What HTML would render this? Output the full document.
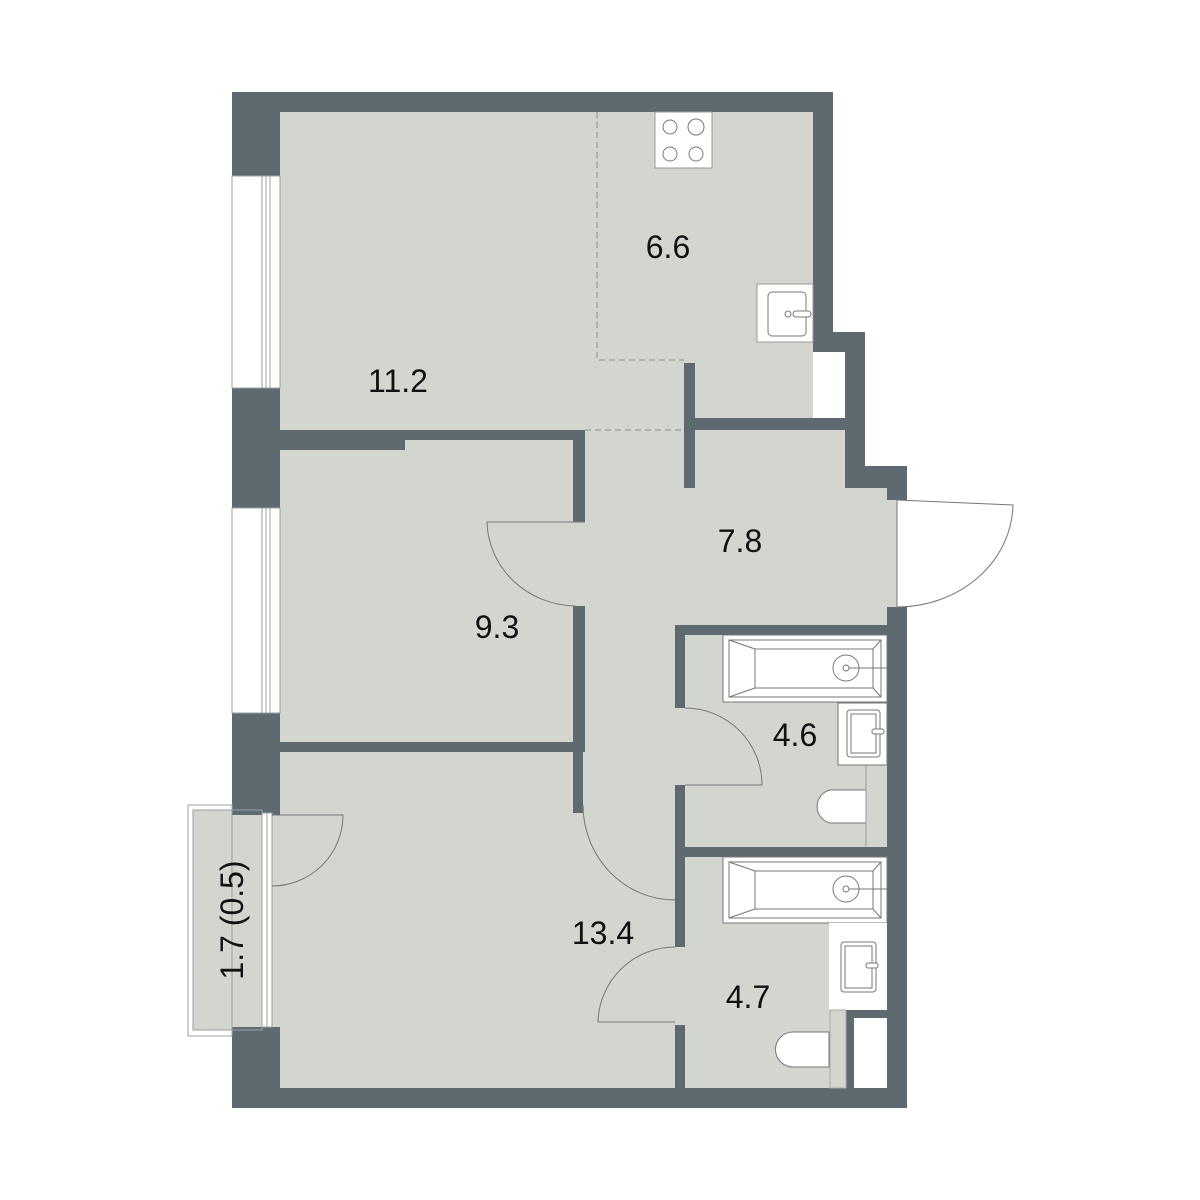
<!DOCTYPE html>
<html><head><meta charset="utf-8"><style>html,body{margin:0;padding:0;background:#fff}svg{display:block}text{font-family:"Liberation Sans",sans-serif;font-size:32px;fill:#111;text-anchor:middle}</style></head>
<body>
<svg width="1200" height="1200" viewBox="0 0 1200 1200" xmlns="http://www.w3.org/2000/svg">
<!-- floor -->
<g fill="#d3d5cf">
<rect x="280" y="112" width="533" height="320"/>
<rect x="270" y="430" width="575" height="660"/>
<rect x="845" y="488" width="42" height="602"/>
<rect x="887" y="500" width="10" height="107"/>
<rect x="193" y="810" width="70" height="220"/>
</g>
<g fill="#5f6a70">
<rect x="232" y="92" width="48" height="723"/>
<rect x="232" y="1027" width="48" height="81"/>
<rect x="232" y="92" width="601" height="20"/>
<rect x="813" y="92" width="20" height="260"/>
<rect x="813" y="332" width="52" height="20"/>
<rect x="845" y="332" width="20" height="156"/>
<rect x="845" y="466" width="62" height="22"/>
<rect x="887" y="466" width="20" height="34"/>
<rect x="887" y="607" width="20" height="501"/>
<rect x="232" y="1088" width="675" height="20"/>
<rect x="685" y="418" width="160" height="12"/>
<rect x="684" y="363" width="11" height="125"/>
<rect x="280" y="430" width="305" height="10"/>
<rect x="280" y="430" width="125" height="20"/>
<rect x="573" y="430" width="12" height="92"/>
<rect x="573" y="606" width="12" height="140"/>
<rect x="280" y="742" width="305" height="10"/>
<rect x="573" y="742" width="10" height="71"/>
<rect x="675" y="625" width="232" height="10"/>
<rect x="675" y="625" width="10" height="83"/>
<rect x="675" y="785" width="10" height="162"/>
<rect x="675" y="847" width="212" height="10"/>
<rect x="675" y="1025" width="10" height="70"/>
<rect x="846" y="1010" width="41" height="8"/>
<rect x="846" y="1010" width="8" height="80"/>
</g>
<g fill="#fff" stroke="#9aa0a3" stroke-width="1">
<rect x="232" y="176" width="48" height="212"/>
<rect x="232" y="508" width="48" height="205"/>
<rect x="262" y="813" width="10" height="214"/>
</g>
<g stroke="#9aa0a3" stroke-width="1">
<line x1="262" y1="176" x2="262" y2="388"/><line x1="266" y1="176" x2="266" y2="388"/><line x1="270" y1="176" x2="270" y2="388"/>
<line x1="262" y1="508" x2="262" y2="713"/><line x1="266" y1="508" x2="266" y2="713"/><line x1="270" y1="508" x2="270" y2="713"/>
<line x1="267" y1="813" x2="267" y2="1027"/>
</g>
<rect x="188" y="805" width="44" height="231" fill="none" stroke="#9aa0a3"/>
<rect x="193" y="810" width="69" height="220" fill="none" stroke="#9aa0a3"/>
<text transform="translate(243,920) rotate(-90)">1.7 (0.5)</text>
<rect x="822" y="352" width="23" height="66" fill="#fff"/>
<rect x="854" y="1018" width="33" height="70" fill="#fff"/>
<g stroke="#8a8f92" stroke-dasharray="6,4" fill="none">
<polyline points="597,112 597,360 684,360"/>
<line x1="585" y1="430" x2="684" y2="430"/>
</g>
<g fill="none" stroke="#777" stroke-width="1">
<path d="M585,522 L487,522 A90,86 0 0 0 575,606"/>
<path d="M583,805 A92,95 0 0 0 675,900"/>
<path d="M685,708 A77,77 0 0 1 762,785 L685,785"/>
<path d="M675,947 A77,77 0 0 0 598,1022 L675,1022"/>
<path d="M272,815 L343,815 A71,71 0 0 1 272,886"/>
</g>
<path d="M897,500 L1013,505 A116,104 0 0 1 897,607 Z" fill="#fff" stroke="#777"/>
<rect x="655" y="112" width="57" height="56" fill="#fff" stroke="#999"/>
<g fill="none" stroke="#777"><circle cx="670" cy="127" r="7"/><circle cx="696" cy="127" r="8"/><circle cx="670" cy="154" r="7"/><circle cx="696" cy="154" r="7"/></g>
<rect x="757" y="284" width="56" height="58" fill="#fff" stroke="#999"/>
<rect x="768" y="292" width="38" height="44" rx="4" fill="none" stroke="#777"/>
<circle cx="788" cy="314" r="3" fill="none" stroke="#777"/>
<rect x="793" y="311" width="18" height="6" rx="3" fill="#fff" stroke="#777"/>
<g fill="#fff" stroke="#777">
<rect x="723" y="635" width="164" height="67"/>
<rect x="729" y="640" width="152" height="57"/>
<rect x="755" y="649" width="118" height="39" fill="none"/>
<circle cx="846" cy="668" r="13" fill="none"/><circle cx="846" cy="668" r="3"/>
<line x1="849" y1="668" x2="887" y2="668"/>
<line x1="729" y1="640" x2="755" y2="649"/><line x1="881" y1="640" x2="873" y2="649"/><line x1="729" y1="697" x2="755" y2="688"/><line x1="881" y1="697" x2="873" y2="688"/>
<rect x="838" y="703" width="49" height="62"/>
<rect x="847" y="710" width="33" height="47" rx="3"/>
<rect x="851" y="714" width="25" height="39" fill="none"/>
<rect x="872" y="729" width="12" height="5" rx="2"/>
<path d="M830,790 L866,790 L866,823 L830,823 A17,17 0 0 1 830,790 Z"/>
</g>
<line x1="866" y1="765" x2="866" y2="847" stroke="#999"/>
<g fill="#fff" stroke="#777">
<rect x="723" y="857" width="164" height="66"/>
<rect x="729" y="862" width="152" height="56"/>
<rect x="755" y="871" width="118" height="38" fill="none"/>
<circle cx="846" cy="889" r="13" fill="none"/><circle cx="846" cy="889" r="3"/>
<line x1="849" y1="889" x2="887" y2="889"/>
<line x1="729" y1="862" x2="755" y2="871"/><line x1="881" y1="862" x2="873" y2="871"/><line x1="729" y1="918" x2="755" y2="909"/><line x1="881" y1="918" x2="873" y2="909"/>
<rect x="829" y="923" width="58" height="87" stroke="none"/>
<rect x="841" y="942" width="35" height="50" rx="3"/>
<rect x="845" y="946" width="27" height="42" fill="none"/>
<rect x="866" y="963" width="12" height="5" rx="2"/>
<path d="M793,1032 L829,1032 L829,1067 L793,1067 A17,17 0 0 1 793,1032 Z"/>
</g>
<rect x="830" y="1010" width="16" height="78" fill="#d3d5cf" stroke="#aaa"/>
<text x="398" y="392">11.2</text>
<text x="668" y="258">6.6</text>
<text x="740" y="552">7.8</text>
<text x="497" y="638">9.3</text>
<text x="795" y="746">4.6</text>
<text x="603" y="944">13.4</text>
<text x="748" y="1008">4.7</text>
</svg>
</body></html>
